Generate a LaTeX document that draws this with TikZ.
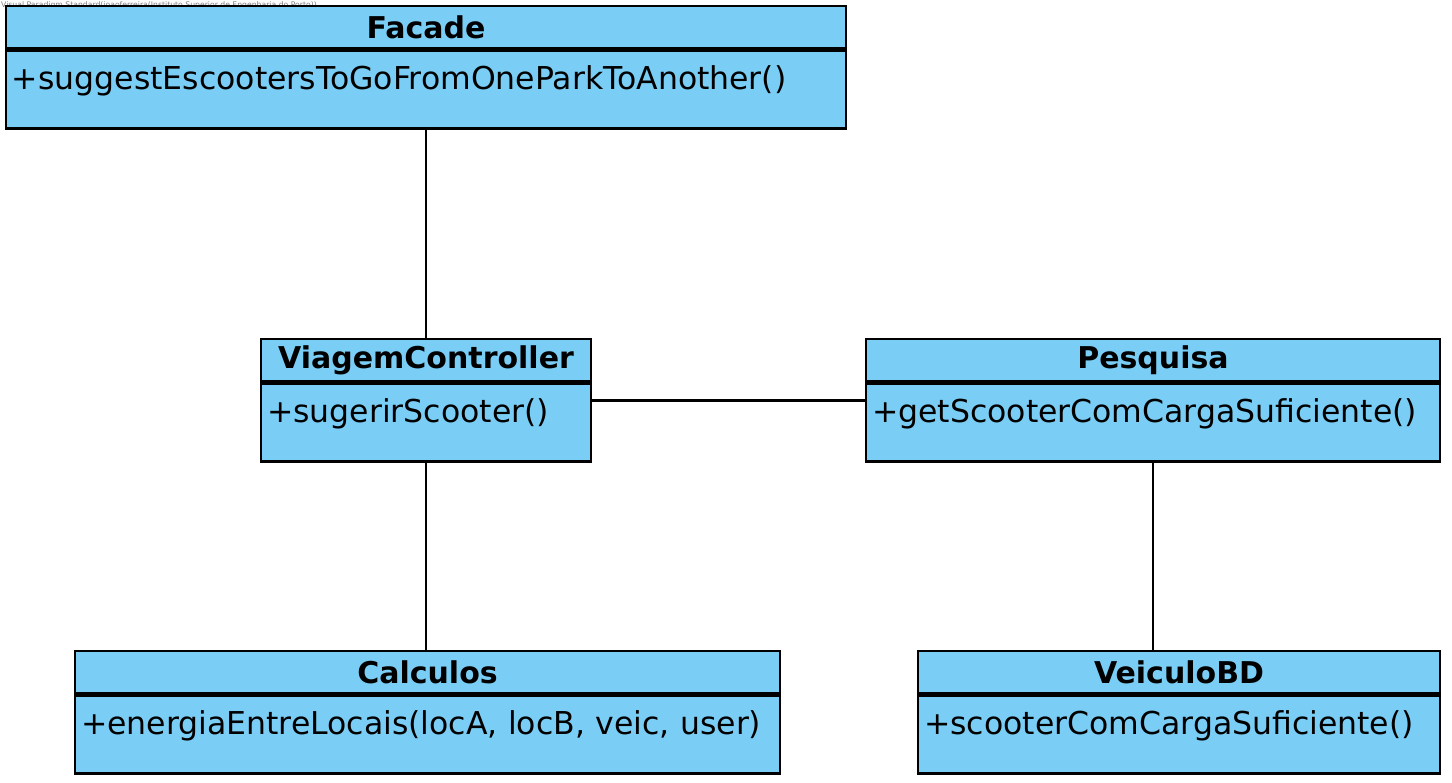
\documentclass[tikz,border=0pt]{standalone}
\usepackage{fontspec}
\setmainfont{DejaVu Sans}
\usetikzlibrary{calc}
\definecolor{umlblue}{RGB}{122,206,245}

\tikzset{
  classtitle/.style={draw, fill=umlblue, line width=2.8pt, minimum width=#1,
    minimum height=42pt, inner sep=0pt, font=\fontsize{30}{34}\selectfont\bfseries},
  classops/.style={draw, fill=umlblue, line width=2.8pt, anchor=north, minimum width=#1,
    text width=#1-12pt, inner xsep=6pt, inner ysep=0pt, align=left,
    text height=39pt, text depth=39pt, font=\fontsize{31.5}{36}\selectfont},
  assoc/.style={line width=2.5pt}
}

\begin{document}
\begin{tikzpicture}[x=1pt, y=-1pt]
\useasboundingbox (0,0) rectangle (1452,783);
\node [anchor=north west, inner sep=1pt, text=gray, font=\fontsize{7.7}{9}\selectfont] (vp) at (0,0) {Visual Paradigm Standard(joaoferreira(Instituto Superior de Engenharia do Porto))};

\node [classtitle=840pt] (facade) at (426,27) {Facade};
\node [classops=840pt] (facadeops) at (facade.south) {+suggestEscootersToGoFromOneParkToAnother()};

\node [classtitle=330pt] (viagem) at (426,360) {ViagemController};
\node [classops=330pt] (viagemops) at (viagem.south) {+sugerirScooter()};

\node [classtitle=574pt] (pesquisa) at (1153,360) {Pesquisa};
\node [classops=574pt] (pesquisaops) at (pesquisa.south) {+getScooterComCargaSuficiente()};

\node [classtitle=705pt] (calculos) at (427.5,672) {Calculos};
\node [classops=705pt] (calculosops) at (calculos.south) {+energiaEntreLocais(locA, locB, veic, user)};

\node [classtitle=522pt] (veiculo) at (1179,672) {VeiculoBD};
\node [classops=522pt] (veiculoops) at (veiculo.south) {+scooterComCargaSuficiente()};

\draw [assoc] (facadeops.south) -- (viagem.north);
\draw [assoc] ($(viagem.north east)!.5!(viagemops.south east)$) -- ($(pesquisa.north west)!.5!(pesquisaops.south west)$);
\draw [assoc] (viagemops.south) -- (viagemops.south |- calculos.north);
\draw [assoc] (pesquisaops.south) -- (pesquisaops.south |- veiculo.north);
\end{tikzpicture}
\end{document}
